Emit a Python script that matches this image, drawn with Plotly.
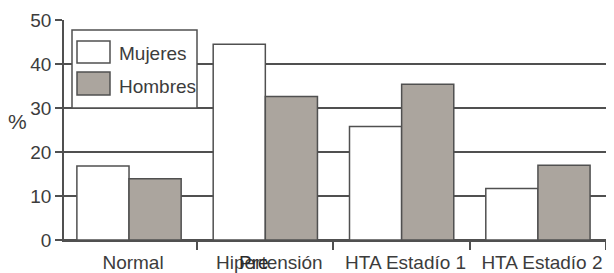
import plotly.graph_objects as go

categories = ["Normal", "Hipertensión", "HTA Estadío 1", "HTA Estadío 2"]
mujeres = [16.8, 44.5, 25.8, 11.7]
hombres = [13.9, 32.6, 35.4, 17.0]
y_ticks = [0, 10, 20, 30, 40, 50]

# page body has an 8px margin; the figure is sized to fill the rest of the window
O = 8
W, H = 614 - O, 273 - O
ML, MR, MT, MB = 64 - O, 0, 20 - O, 273 - 240
PW, PH = W - ML - MR, H - MT - MB

FONT = "Liberation Sans, Arial, sans-serif"
TXT = "#3c3c3c"
LINE = "#505050"
GRAY = "#aba59e"

fig = go.Figure()
fig.add_trace(go.Bar(x=categories, y=mujeres, name="Mujeres",
                     marker=dict(color="white", line=dict(color=LINE, width=1.5)),
                     showlegend=False))
fig.add_trace(go.Bar(x=categories, y=hombres, name="Hombres",
                     marker=dict(color=GRAY, line=dict(color=LINE, width=1.5)),
                     showlegend=False))

# convert window pixel positions (as in the reference) to paper coordinates
def px(xp):
    return (xp - O - ML) / PW

def py(yp):
    return (MT + PH - (yp - O)) / PH

shapes = [
    dict(type="rect", xref="paper", yref="paper",
         x0=px(72), x1=px(197), y0=py(108), y1=py(30),
         fillcolor="white", line=dict(color=LINE, width=1.5), layer="above"),
    dict(type="rect", xref="paper", yref="paper",
         x0=px(77), x1=px(110), y0=py(63), y1=py(41),
         fillcolor="white", line=dict(color=LINE, width=1.5), layer="above"),
    dict(type="rect", xref="paper", yref="paper",
         x0=px(77), x1=px(110), y0=py(95), y1=py(72),
         fillcolor=GRAY, line=dict(color=LINE, width=1.5), layer="above"),
]

annotations = [
    dict(text="Mujeres", xref="paper", yref="paper", x=px(117), y=py(53),
         xanchor="left", yanchor="middle", showarrow=False,
         font=dict(family=FONT, size=19, color=TXT)),
    dict(text="Hombres", xref="paper", yref="paper", x=px(117), y=py(86),
         xanchor="left", yanchor="middle", showarrow=False,
         font=dict(family=FONT, size=19, color=TXT)),
    dict(text="%", xref="paper", yref="paper", x=px(17), y=py(121),
         xanchor="center", yanchor="middle", showarrow=False,
         font=dict(family=FONT, size=21, color=TXT)),
    dict(text="Pre", xref="paper", yref="paper", x=px(254), y=py(262),
         xanchor="center", yanchor="middle", showarrow=False,
         font=dict(family=FONT, size=19, color="#2a2a2a")),
]

fig.update_layout(
    width=W, height=H,
    margin=dict(l=ML, r=MR, t=MT, b=MB, pad=0, autoexpand=False),
    paper_bgcolor="white", plot_bgcolor="white",
    barmode="group", bargap=0.235, bargroupgap=0,
    font=dict(family=FONT, size=19, color=TXT),
    shapes=shapes, annotations=annotations,
    xaxis=dict(range=[-0.477, 3.558], showgrid=False, automargin=False,
               ticks="outside", tickson="boundaries", ticklen=8,
               tickcolor=LINE, tickwidth=1.5,
               ticklabelstandoff=4, ticklabelshift=4,
               showline=True, linecolor=LINE, linewidth=1.5,
               tickfont=dict(family=FONT, size=19, color=TXT)),
    yaxis=dict(range=[0, 50], tickvals=y_ticks, showgrid=True, automargin=False,
               gridcolor=LINE, gridwidth=1.5,
               zeroline=True, zerolinecolor=LINE, zerolinewidth=1.5,
               ticks="outside", ticklen=7, tickcolor=LINE, tickwidth=1.5,
               showline=True, linecolor=LINE, linewidth=1.5,
               tickfont=dict(family=FONT, size=19, color=TXT)),
)

fig.write_html("out.html")
